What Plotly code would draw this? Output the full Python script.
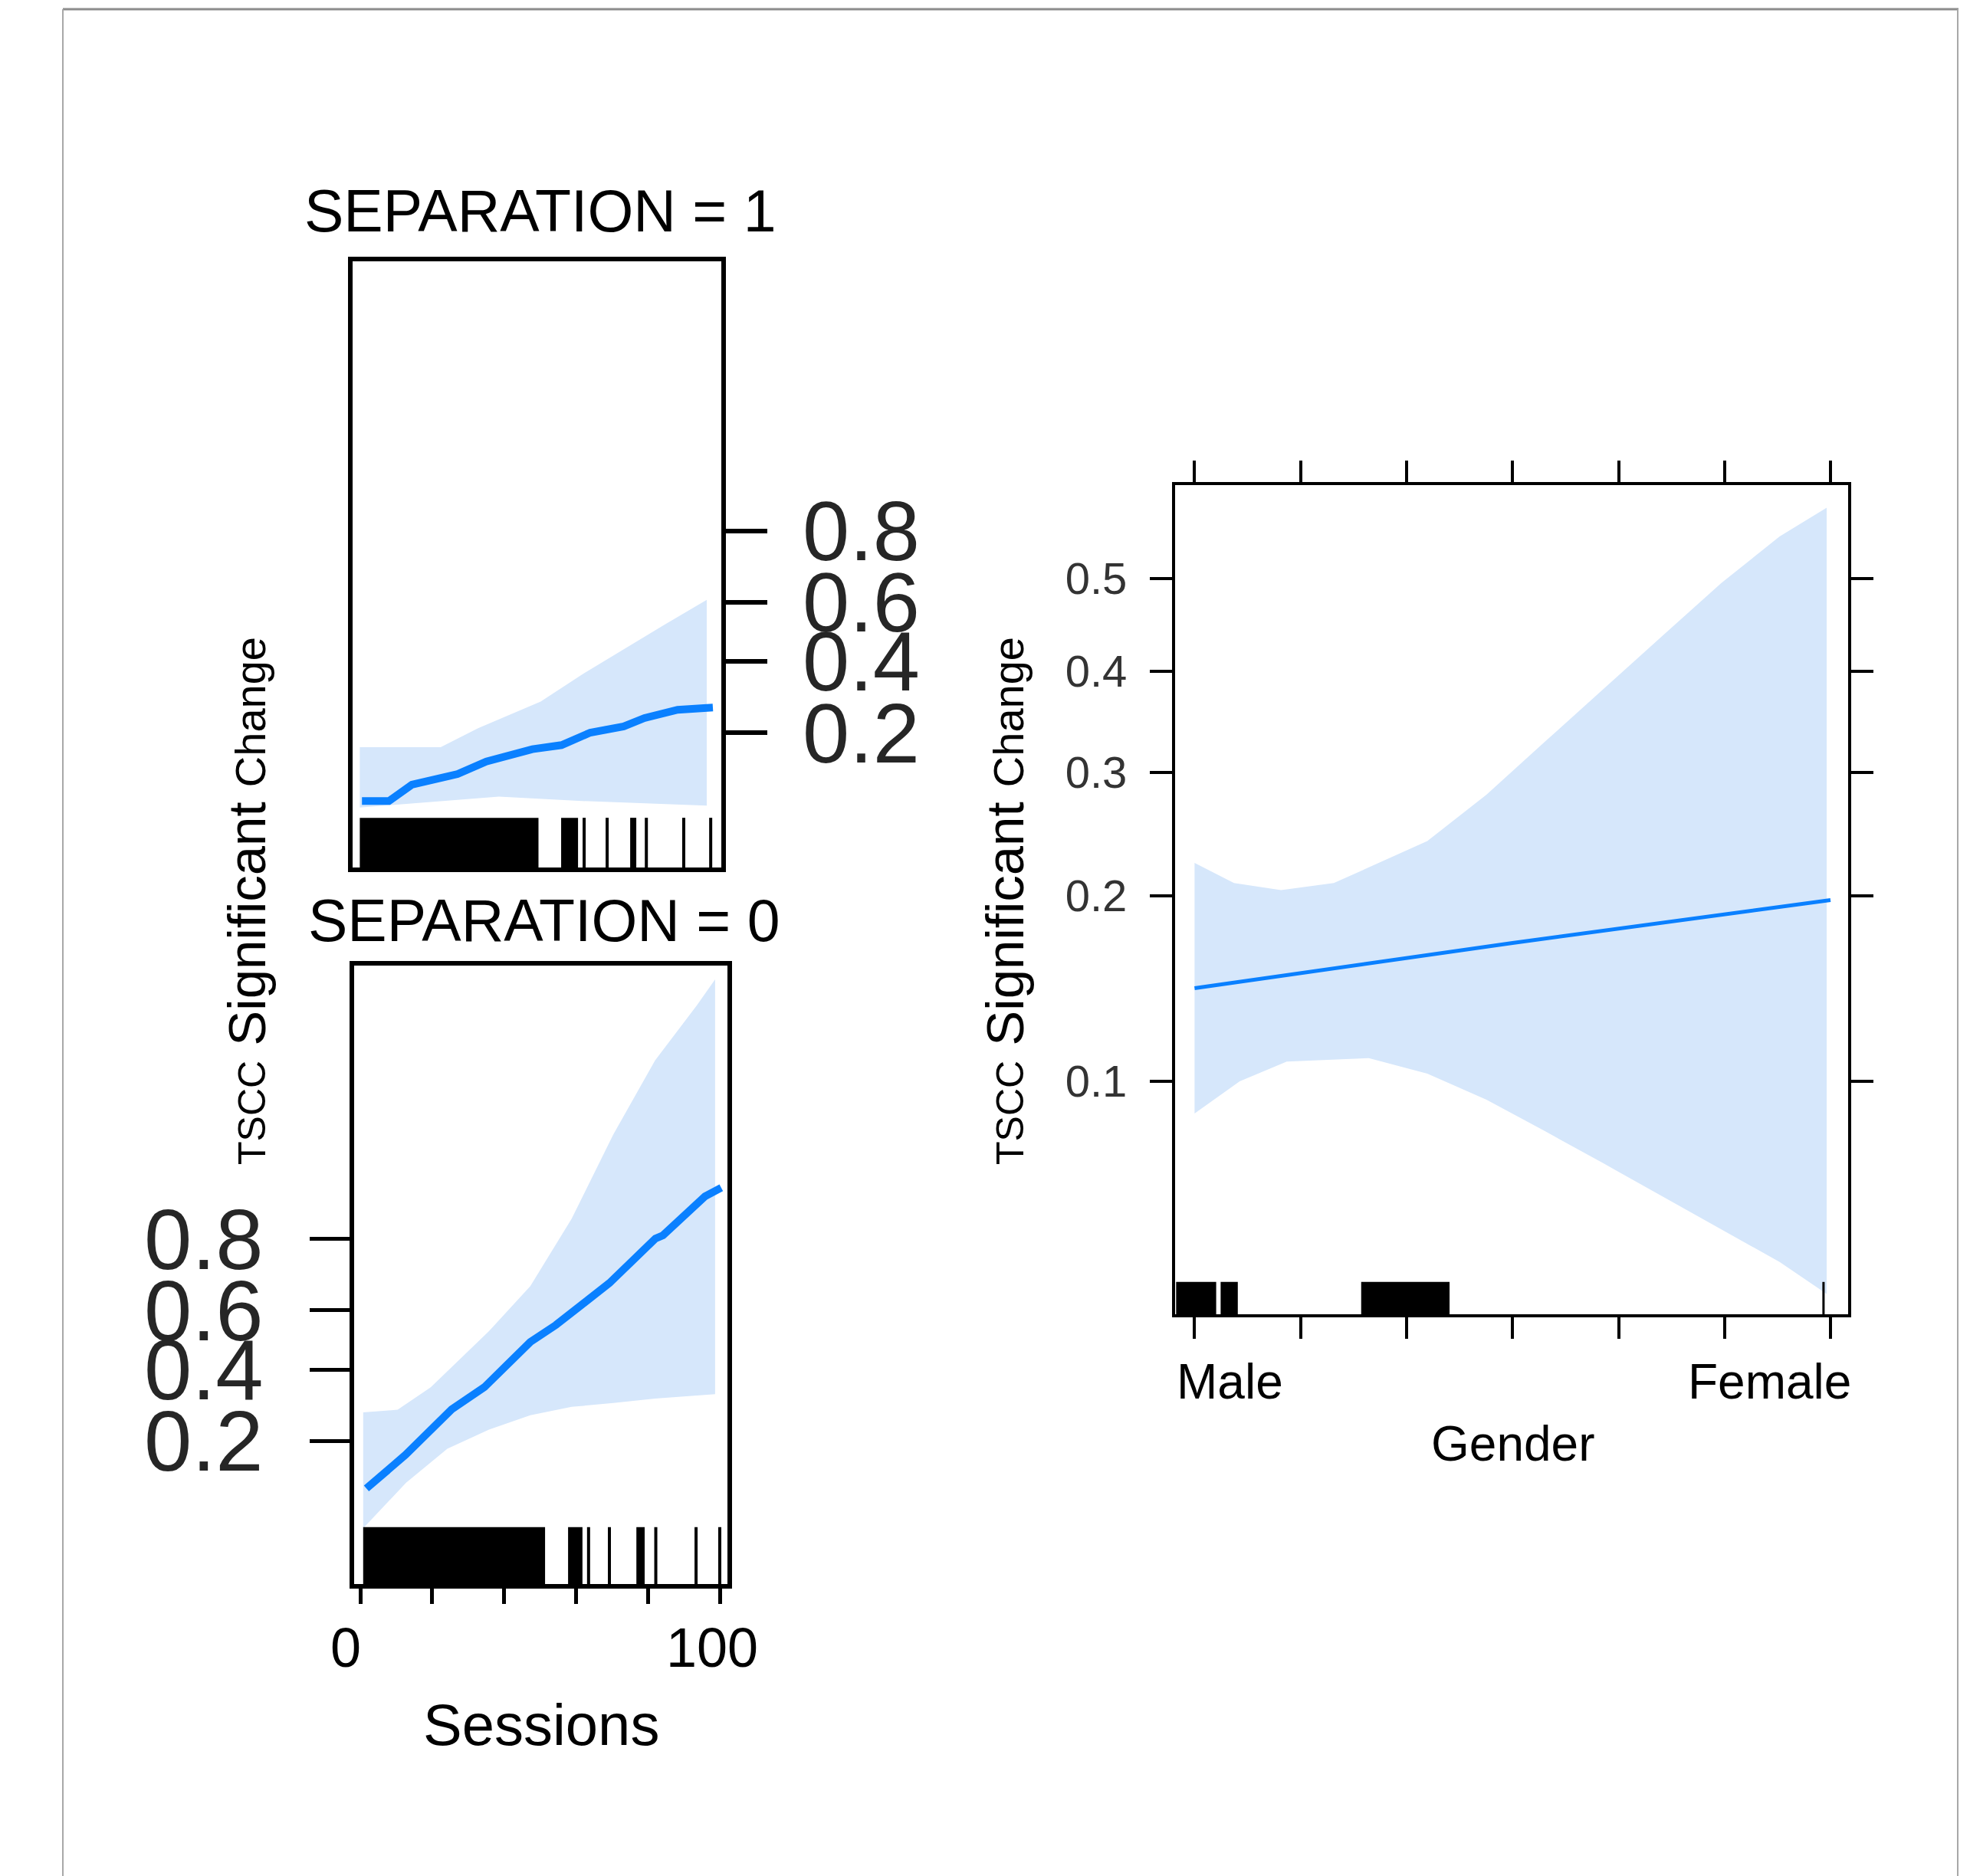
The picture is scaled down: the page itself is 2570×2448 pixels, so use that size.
import numpy as np
import plotly.graph_objects as go

# ---------------- data (probabilities) ----------------
# SEPARATION = 1 panel
sep1_line_sessions = [0.9, 8.4, 14.8, 27.5, 35.5, 48.3, 56.4, 64.4, 73.7, 79.5, 88.7, 98.5]
sep1_line_prob = [0.089, 0.089, 0.109, 0.124, 0.144, 0.166, 0.174, 0.200, 0.214, 0.234, 0.255, 0.261]
sep1_upper_sessions = [0.3, 22.8, 33.2, 50.6, 62.1, 73.7, 85.2, 96.8]
sep1_upper_prob = [0.170, 0.170, 0.210, 0.277, 0.357, 0.440, 0.525, 0.608]
sep1_lower_sessions = [0.3, 39.0, 62.1, 96.8]
sep1_lower_prob = [0.082, 0.094, 0.089, 0.084]
sep1_rug_blocks = [(0.3, 50.0), (56.3, 61.0), (75.5, 77.2)]
sep1_rug_ticks = [62.7, 69.1, 80.0, 90.4, 97.9]

# SEPARATION = 0 panel
sep0_line_sessions = [1.7, 12.6, 25.4, 34.5, 47.3, 54.4, 62.3, 69.3, 82.1, 84.2, 95.9, 100.4]
sep0_line_prob = [0.115, 0.171, 0.278, 0.343, 0.493, 0.551, 0.625, 0.686, 0.801, 0.808, 0.878, 0.890]
sep0_upper_sessions = [0.8, 10.4, 19.6, 35.8, 47.3, 58.8, 70.4, 82.0, 93.6, 98.7]
sep0_upper_prob = [0.270, 0.277, 0.343, 0.530, 0.677, 0.841, 0.944, 0.979, 0.990, 0.993]
sep0_lower_sessions = [0.8, 12.7, 24.2, 35.8, 47.3, 58.8, 70.4, 82.0, 98.7]
sep0_lower_prob = [0.070, 0.123, 0.183, 0.226, 0.262, 0.285, 0.296, 0.309, 0.322]
sep0_rug_blocks = [(0.8, 51.4), (57.8, 61.8), (76.8, 79.1)]
sep0_rug_ticks = [63.5, 69.3, 82.2, 93.4, 100.0]

# Gender panel (0 = Male, 1 = Female)
gender_line_x = [0.0, 0.5, 1.0]
gender_line_prob = [0.143, 0.169, 0.197]
gender_upper_x = [0.0, 0.062, 0.136, 0.219, 0.366, 0.459, 0.551, 0.643, 0.736, 0.828, 0.920, 0.994]
gender_upper_prob = [0.224, 0.209, 0.204, 0.209, 0.241, 0.280, 0.329, 0.382, 0.438, 0.495, 0.546, 0.577]
gender_lower_x = [0.0, 0.071, 0.145, 0.274, 0.366, 0.459, 0.551, 0.643, 0.736, 0.828, 0.920, 0.994]
gender_lower_prob = [0.088, 0.100, 0.108, 0.1095, 0.103, 0.093, 0.082, 0.072, 0.063, 0.055, 0.048, 0.042]
gender_rug_blocks = [(-0.029, 0.034), (0.041, 0.068), (0.262, 0.401)]
gender_rug_ticks = [0.989]

sessions_tick_vals = [0, 20, 40, 60, 80, 100]
sessions_tick_labels = ["0", "100"]
sep_prob_ticks = [0.2, 0.4, 0.6, 0.8]
sep_prob_labels = ["0.2", "0.4", "0.6", "0.8"]
gender_prob_ticks = [0.1, 0.2, 0.3, 0.4, 0.5]
gender_prob_labels = ["0.1", "0.2", "0.3", "0.4", "0.5"]
gender_tick_vals = [0.0, 0.1667, 0.3333, 0.5, 0.6667, 0.8333, 1.0]
gender_labels = ["Male", "Female"]

# ---------------- helpers ----------------
W, H = 2570, 2448
FONT = "Liberation Sans, Arial, Helvetica, sans-serif"
BAND = "#d6e7fb"
LINE = "#0a80ff"


def logit(p):
    p = np.asarray(p, dtype=float)
    return np.log(p / (1 - p))


def px(xp):
    return xp / W


def py(yp):
    return 1 - yp / H


fig = go.Figure()


def add_panel(xs_u, pu, xs_l, pl, xl, pline, xa, ya, lw):
    fig.add_trace(go.Scatter(
        x=list(xs_u) + list(xs_l)[::-1],
        y=list(logit(pu)) + list(logit(pl))[::-1],
        fill="toself", fillcolor=BAND, line=dict(width=0, color=BAND),
        mode="lines", hoverinfo="skip", showlegend=False, xaxis=xa, yaxis=ya))
    fig.add_trace(go.Scatter(
        x=xl, y=logit(pline), mode="lines", line=dict(color=LINE, width=lw),
        showlegend=False, xaxis=xa, yaxis=ya))


add_panel(sep1_upper_sessions, sep1_upper_prob, sep1_lower_sessions, sep1_lower_prob,
          sep1_line_sessions, sep1_line_prob, "x", "y", 10)
add_panel(sep0_upper_sessions, sep0_upper_prob, sep0_lower_sessions, sep0_lower_prob,
          sep0_line_sessions, sep0_line_prob, "x2", "y2", 10)
add_panel(gender_upper_x, gender_upper_prob, gender_lower_x, gender_lower_prob,
          gender_line_x, gender_line_prob, "x3", "y3", 5)

shapes = []


def add_rug(blocks, ticks, xref, yref, h, tw):
    for a, b in blocks:
        shapes.append(dict(type="rect", xref=xref, yref=yref, x0=a, x1=b, y0=0, y1=h,
                           fillcolor="black", line=dict(width=0), layer="above"))
    for t in ticks:
        shapes.append(dict(type="line", xref=xref, yref=yref, x0=t, x1=t, y0=0, y1=h,
                           line=dict(color="black", width=tw), layer="above"))


add_rug(sep1_rug_blocks, sep1_rug_ticks, "x", "y domain", 0.082, 4)
add_rug(sep0_rug_blocks, sep0_rug_ticks, "x2", "y2 domain", 0.092, 4)
add_rug(gender_rug_blocks, gender_rug_ticks, "x3", "y3 domain", 0.039, 3)

# outer frame
shapes.append(dict(type="line", xref="paper", yref="paper", x0=px(82), x1=px(2555), y0=py(12), y1=py(12),
                   line=dict(color="#8c8c8c", width=3)))
shapes.append(dict(type="line", xref="paper", yref="paper", x0=px(82), x1=px(82), y0=py(12), y1=0,
                   line=dict(color="#a8a8a8", width=2)))
shapes.append(dict(type="line", xref="paper", yref="paper", x0=px(2554), x1=px(2554), y0=py(12), y1=0,
                   line=dict(color="#a8a8a8", width=2)))

axis_common = dict(showgrid=False, zeroline=False, showline=True, linecolor="black",
                   mirror=True, tickcolor="black", automargin=False)

layout = dict(
    width=W, height=H, margin=dict(l=0, r=0, t=0, b=0, pad=0),
    paper_bgcolor="white", plot_bgcolor="white",
    font=dict(family=FONT, color="black"),
    showlegend=False,
    xaxis=dict(domain=[px(460), px(941)], range=[-1.7, 100.85], anchor="y",
               ticks="", showticklabels=False, linewidth=6, **axis_common),
    yaxis=dict(domain=[py(1132), py(341)], range=[-3.239, 5.088], anchor="x",
               side="right", ticks="outside", ticklen=54, tickwidth=6,
               tickvals=logit(sep_prob_ticks), ticktext=sep_prob_labels,
               tickfont=dict(size=110, color="#262626"), ticklabelstandoff=24,
               linewidth=6, **axis_common),
    xaxis2=dict(domain=[px(462), px(949)], range=[-1.71, 102.13], anchor="y2",
                ticks="outside", ticklen=20, tickwidth=5,
                tickvals=sessions_tick_vals, showticklabels=False,
                linewidth=6, **axis_common),
    yaxis2=dict(domain=[py(2067), py(1260)], range=[-3.354, 5.144], anchor="x2",
                side="left", ticks="outside", ticklen=52, tickwidth=5,
                tickvals=logit(sep_prob_ticks), ticktext=sep_prob_labels,
                tickfont=dict(size=112, color="#262626"), ticklabelstandoff=38,
                linewidth=6, **axis_common),
    xaxis3=dict(domain=[px(1533), px(2411)], range=[-0.0306, 1.0277], anchor="y3",
                ticks="outside", ticklen=28, tickwidth=4, tickvals=gender_tick_vals,
                showticklabels=False, linewidth=4,
                **{**axis_common, "mirror": "ticks"}),
    yaxis3=dict(domain=[py(1715), py(633)], range=[-3.216, 0.409], anchor="x3",
                ticks="outside", ticklen=29, tickwidth=4,
                tickvals=logit(gender_prob_ticks), ticktext=gender_prob_labels,
                tickfont=dict(size=58, color="#333333"), ticklabelstandoff=18,
                linewidth=4, **{**axis_common, "mirror": "ticks"}),
    shapes=shapes,
)
fig.update_layout(**layout)

ann = []


def text(x, y, s, size, **kw):
    d = dict(x=px(x), y=py(y), xref="paper", yref="paper", text=s, showarrow=False,
             font=dict(size=size, color="black", family=FONT), xanchor="center", yanchor="middle")
    d.update(kw)
    ann.append(d)


text(704, 275, "SEPARATION = 1", 77)
text(709, 1201, "SEPARATION = 0", 77)
text(451, 2150, sessions_tick_labels[0], 72)
text(929, 2150, sessions_tick_labels[1], 72)
text(706, 2250, "Sessions", 76)
ytitle = ("<span style='font-size:50px'>TSCC</span> Significant "
          "<span style='font-size:56px'>Change</span>")
text(322, 1176, ytitle, 69, textangle=-90)
text(1311, 1176, ytitle, 69, textangle=-90)
text(1533, 1803, gender_labels[0], 64, xanchor="left")
text(2417, 1803, gender_labels[1], 64, xanchor="right")
text(1973, 1884, "Gender", 64)

fig.update_layout(annotations=ann)

fig.write_html("out.html", config={"displayModeBar": False},
               post_script="document.body.style.margin='0';document.body.style.overflow='hidden';")
